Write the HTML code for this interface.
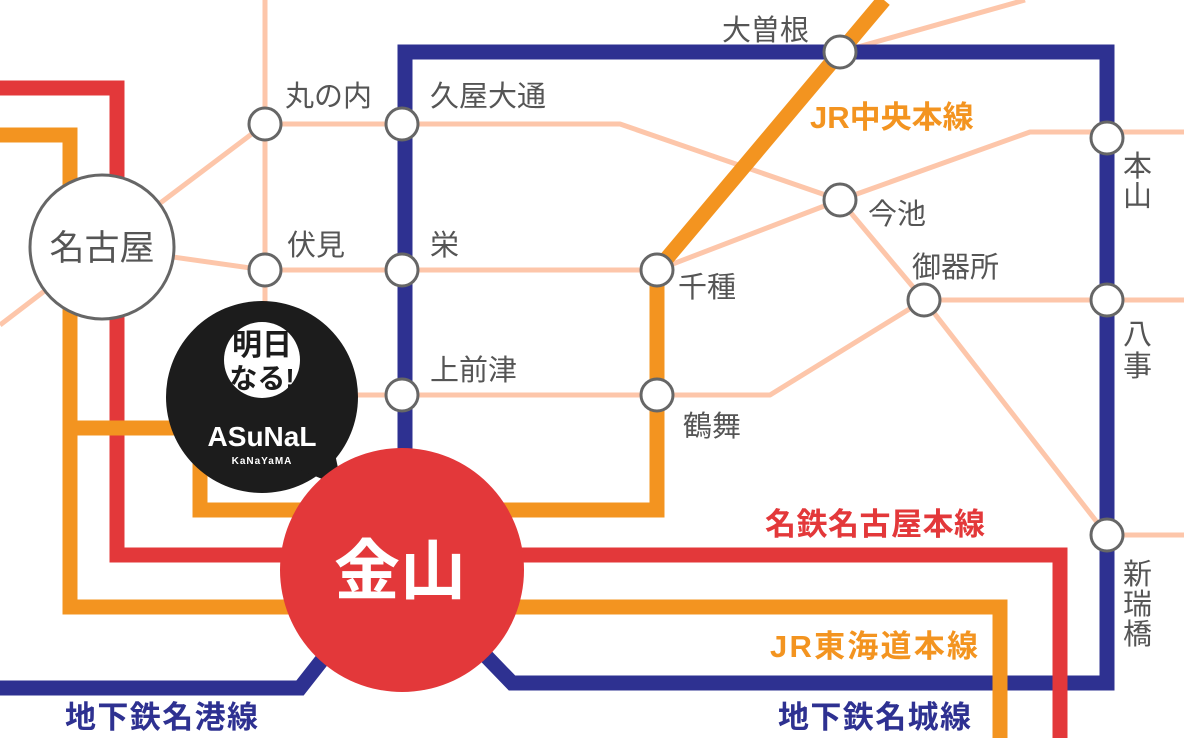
<!DOCTYPE html>
<html><head><meta charset="utf-8"><style>
html,body{margin:0;padding:0;background:#fff}
svg{display:block}
text{font-family:"Liberation Sans","Noto Sans CJK JP",sans-serif}
</style></head><body>
<svg width="1184" height="738" viewBox="0 0 1184 738" xmlns="http://www.w3.org/2000/svg">
<g fill="none" stroke="#fdc6aa" stroke-width="5" stroke-linejoin="round">
<polyline points="0,325 102,247 265,270 657,270 840,200 1030,132 1184,132"/>
<polyline points="102,247 265,124 620,124 840,200 924,300 1107,535 1184,535"/>
<line x1="265" y1="0" x2="265" y2="320"/>
<polyline points="340,395 657,395 770,395 924,300 1184,300"/>
<line x1="840" y1="52" x2="1025" y2="0"/>
</g>
<g fill="none" stroke-width="15" stroke-linejoin="miter">
<polyline stroke="#2e3191" points="405,460 405,52 1107,52 1107,683 512,683 485,655"/>
<polyline stroke="#2e3191" points="0,688 300,688 322,660"/>
<polyline stroke="#e3383a" points="0,88 117,88 117,555 1060,555 1060,738"/>
<polyline stroke="#f39420" points="0,135 70,135 70,607 1000,607 1000,738"/>
<line stroke="#f39420" x1="70" y1="428" x2="180" y2="428"/>
<polyline stroke="#f39420" points="200,440 200,510 657,510 657,270 884,0"/>
</g>
<circle cx="102" cy="247" r="72" fill="#fff" stroke="#666" stroke-width="3"/>
<text x="102" y="260" font-size="35" fill="#555" text-anchor="middle">名古屋</text>
<g fill="#fff" stroke="#666" stroke-width="3">
<circle cx="265" cy="124" r="16"/><circle cx="402" cy="124" r="16"/>
<circle cx="265" cy="270" r="16"/><circle cx="402" cy="270" r="16"/>
<circle cx="657" cy="270" r="16"/><circle cx="402" cy="395" r="16"/>
<circle cx="657" cy="395" r="16"/><circle cx="840" cy="52" r="16"/>
<circle cx="840" cy="200" r="16"/><circle cx="924" cy="300" r="16"/>
<circle cx="1107" cy="138" r="16"/><circle cx="1107" cy="300" r="16"/>
<circle cx="1107" cy="535" r="16"/>
</g>
<g fill="#1c1c1c">
<circle cx="262" cy="397" r="96"/>
<polygon points="300,470 342,487 330,430"/>
</g>
<circle cx="262" cy="360" r="38" fill="#fff"/>
<text x="262" y="355" font-size="30" font-weight="bold" fill="#1c1c1c" text-anchor="middle">明日</text>
<text x="262" y="388" font-size="28" font-weight="bold" fill="#1c1c1c" text-anchor="middle">なる!</text>
<text x="262" y="446" font-size="28" font-weight="bold" fill="#fff" text-anchor="middle">ASuNaL</text>
<text x="262" y="464" font-size="10" font-weight="bold" fill="#fff" text-anchor="middle" letter-spacing="1">KaNaYaMA</text>
<circle cx="402" cy="570" r="122" fill="#e3383a"/>
<text x="400" y="594" font-size="66" font-weight="bold" fill="#fff" text-anchor="middle">金山</text>
<g font-size="29" fill="#555">
<text x="285" y="106">丸の内</text>
<text x="430" y="106">久屋大通</text>
<text x="287" y="255">伏見</text>
<text x="430" y="255">栄</text>
<text x="678" y="297">千種</text>
<text x="430" y="380">上前津</text>
<text x="683" y="436">鶴舞</text>
<text x="722" y="40">大曽根</text>
<text x="868" y="224">今池</text>
<text x="912" y="277">御器所</text>
<text x="1123" y="176">本</text><text x="1123" y="206">山</text>
<text x="1123" y="344">八</text><text x="1123" y="376">事</text>
<text x="1123" y="584">新</text><text x="1123" y="614">瑞</text><text x="1123" y="644">橋</text>
</g>
<g font-size="31" font-weight="bold">
<text x="810" y="128" fill="#f39420">JR中央本線</text>
<text x="765" y="535" fill="#e3383a" textLength="220">名鉄名古屋本線</text>
<text x="770" y="657" fill="#f39420" textLength="208">JR東海道本線</text>
<text x="65" y="728" fill="#2e3191" textLength="193">地下鉄名港線</text>
<text x="778" y="728" fill="#2e3191" textLength="193">地下鉄名城線</text>
</g>
</svg>
</body></html>
